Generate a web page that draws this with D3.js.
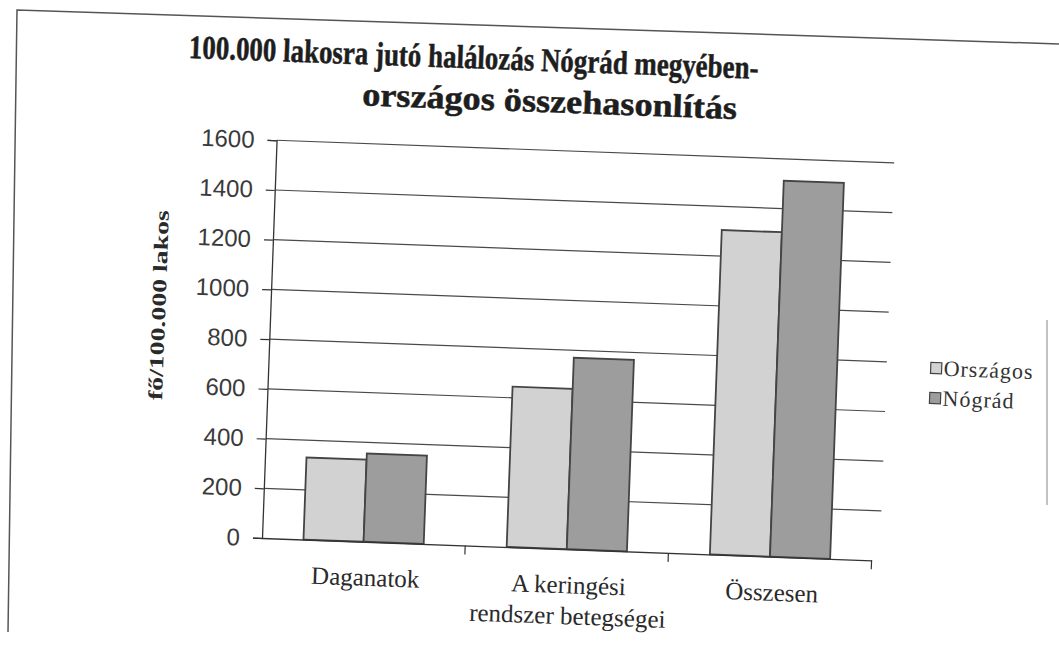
<!DOCTYPE html>
<html>
<head>
<meta charset="utf-8">
<script src="https://cdn.jsdelivr.net/npm/d3@7"></script>
<style>
  html, body { margin: 0; padding: 0; background: #fff; }
  svg { display: block; }
</style>
</head>
<body>
<div id="chart"></div>
<script>
// data
var categories = ["Daganatok", "A keringési rendszer betegségei", "Összesen"];
var categoryLines = [["Daganatok"], ["A keringési", "rendszer betegségei"], ["Összesen"]];
var series = ["Országos", "Nógrád"];
var orszagos = [330, 645, 1305];
var nograd = [355, 770, 1512];
var yTicks = [0, 200, 400, 600, 800, 1000, 1200, 1400, 1600];

var colors = { "Országos": "#d2d2d2", "Nógrád": "#9d9d9d" };

var width = 1059, height = 659;
var plotLeft = 262, plotRight = 872, plotTop = 140, plotBottom = 538;

var svg = d3.select("#chart").append("svg")
    .attr("width", width)
    .attr("height", height);

// page frame of the scan (not tilted the same way as the chart)
svg.append("path")
  .attr("d", "M8,632 L17,10 L1059,44")
  .attr("fill", "none").attr("stroke", "#555").attr("stroke-width", 1.5);
svg.append("line").attr("x1", 1047).attr("y1", 320).attr("x2", 1047).attr("y2", 505)
  .attr("stroke", "#999").attr("stroke-width", 1.2);

// the scan is slightly tilted, so the chart sits in one rotated group
var g = svg.append("g").attr("transform", "rotate(2.1," + plotLeft + "," + plotBottom + ")");

var y = d3.scaleLinear().domain([0, 1600]).range([plotBottom, plotTop]);
var x0 = d3.scaleBand().domain(categories).range([plotLeft, plotRight]).padding(0);
var x1 = d3.scaleBand().domain(series).range([0, x0.bandwidth()]).paddingInner(0).paddingOuter(0.69);

// gridlines
g.append("g").selectAll("line").data(yTicks.filter(function(d) { return d > 0; }))
  .enter().append("line")
  .attr("x1", plotLeft).attr("x2", plotRight + 8)
  .attr("y1", function(d) { return y(d); })
  .attr("y2", function(d) { return y(d); })
  .attr("stroke", "#4a4a4a").attr("stroke-width", 1.2);

// y axis
var yAxis = g.append("g")
  .attr("transform", "translate(" + plotLeft + ",0)")
  .call(d3.axisLeft(y).tickValues(yTicks).tickSize(9).tickPadding(13).tickFormat(d3.format("d")));
yAxis.select(".domain").attr("stroke", "#333").attr("stroke-width", 1.3);
yAxis.selectAll(".tick line").attr("stroke", "#333").attr("stroke-width", 1.2);
yAxis.selectAll(".tick text")
  .attr("fill", "#3a3a3a")
  .style("font-family", "'Liberation Sans', Arial, sans-serif")
  .style("font-size", "24px");

// bars
var rows = categories.map(function(c, i) {
  return { cat: c, values: [
    { key: "Országos", value: orszagos[i] },
    { key: "Nógrád", value: nograd[i] }
  ] };
});

var groups = g.append("g").selectAll("g").data(rows).enter().append("g")
  .attr("transform", function(d) { return "translate(" + x0(d.cat) + ",0)"; });

groups.selectAll("rect").data(function(d) { return d.values; }).enter().append("rect")
  .attr("x", function(d) { return x1(d.key); })
  .attr("y", function(d) { return y(d.value); })
  .attr("width", x1.bandwidth())
  .attr("height", function(d) { return y(0) - y(d.value); })
  .attr("fill", function(d) { return colors[d.key]; })
  .attr("stroke", "#444")
  .attr("stroke-width", 1.8);

// x axis
var xAxis = g.append("g")
  .attr("transform", "translate(0," + plotBottom + ")")
  .call(d3.axisBottom(x0).tickSize(0).tickFormat(""));
xAxis.select(".domain").attr("stroke", "#333").attr("stroke-width", 1.3);
// category separators
g.append("g").selectAll("line").data(categories).enter().append("line")
  .attr("x1", function(d) { return x0(d) + x0.bandwidth(); })
  .attr("x2", function(d) { return x0(d) + x0.bandwidth(); })
  .attr("y1", plotBottom).attr("y2", plotBottom + 9)
  .attr("stroke", "#333").attr("stroke-width", 1.2);

g.append("g").selectAll("text").data(categories).enter().append("text")
  .attr("x", function(d) { return x0(d) + x0.bandwidth() / 2 + 3; })
  .attr("y", plotBottom + 44)
  .attr("text-anchor", "middle")
  .attr("fill", "#2a2a2a")
  .style("font-family", "'Liberation Serif', 'Times New Roman', serif")
  .style("font-size", "25px")
  .each(function(d, i) {
    var t = d3.select(this);
    categoryLines[i].forEach(function(line, j) {
      t.append("tspan")
        .attr("x", x0(d) + x0.bandwidth() / 2 + 3)
        .attr("dy", j === 0 ? 0 : 31)
        .text(line);
    });
  });

// title
var title = g.append("g")
  .style("font-family", "'Liberation Serif', 'Times New Roman', serif")
  .style("font-weight", "bold")
  .attr("fill", "#1e1e1e")
  .attr("stroke", "#1e1e1e")
  .attr("stroke-width", 0.5);
title.append("text")
  .attr("x", 171).attr("y", 61)
  .attr("textLength", 570).attr("lengthAdjust", "spacingAndGlyphs")
  .style("font-size", "33px")
  .text("100.000 lakosra jutó halálozás Nógrád megyében-");
title.append("text")
  .attr("x", 346).attr("y", 102)
  .attr("textLength", 375).attr("lengthAdjust", "spacingAndGlyphs")
  .style("font-size", "33px")
  .text("országos összehasonlítás");

// y axis title
g.append("text")
  .attr("transform", "translate(157,309) rotate(-90)")
  .attr("text-anchor", "middle")
  .attr("textLength", 190).attr("lengthAdjust", "spacingAndGlyphs")
  .attr("fill", "#2a2a2a")
  .style("font-family", "'Liberation Serif', 'Times New Roman', serif")
  .style("font-weight", "bold")
  .style("font-size", "20px")
  .text("fő/100.000 lakos");

// legend
var legend = g.append("g").attr("transform", "translate(924,345)");
var items = legend.selectAll("g").data(series).enter().append("g")
  .attr("transform", function(d, i) { return "translate(0," + (i * 30) + ")"; });
items.append("rect")
  .attr("x", 0).attr("y", -7).attr("width", 11).attr("height", 11)
  .attr("fill", function(d) { return colors[d]; })
  .attr("stroke", "#444").attr("stroke-width", 1.2);
items.append("text")
  .attr("x", 13).attr("y", 6)
  .attr("fill", "#333")
  .style("font-family", "'Liberation Serif', 'Times New Roman', serif")
  .style("font-size", "22px")
  .style("letter-spacing", "1px")
  .text(function(d) { return d; });
</script>
</body>
</html>
